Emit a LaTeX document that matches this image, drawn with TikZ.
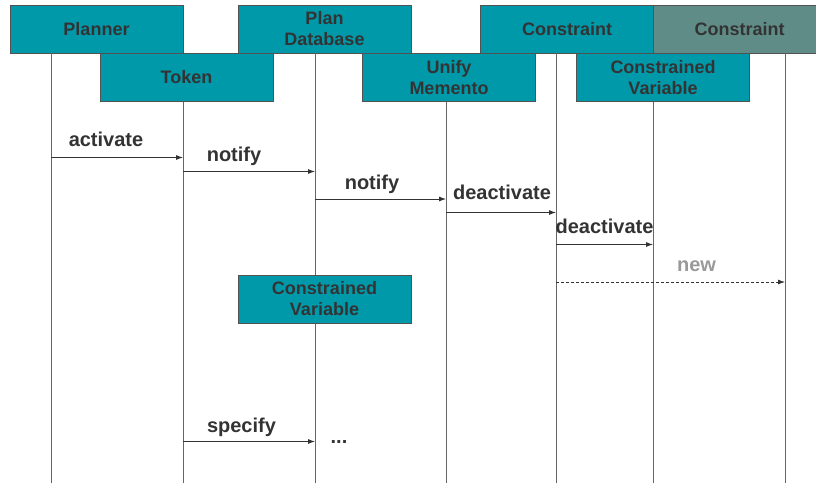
\documentclass[tikz,border=0pt]{standalone}
\usepackage{fontspec}
\setmainfont{Liberation Sans}
\usetikzlibrary{arrows.meta}
\definecolor{boxteal}{RGB}{0,153,170}
\definecolor{boxgrey}{RGB}{96,140,136}
\definecolor{ink}{RGB}{51,51,51}
\begin{document}
\begin{tikzpicture}[x=1pt,y=-1pt]
\tikzstyle{obj}=[draw=ink!85,fill=boxteal,minimum width=173pt,minimum height=48pt,inner sep=0pt,align=center,font=\fontsize{18}{21}\selectfont\bfseries,text=ink]
\tikzstyle{life}=[draw=ink!75,line width=0.9pt]
\tikzstyle{msg}=[draw=ink,line width=0.8pt,-{Latex[length=7pt,width=5pt]}]
\tikzstyle{lbl}=[anchor=base,inner sep=0pt,font=\fontsize{20}{24}\selectfont\bfseries,text=ink]
\useasboundingbox (0,0) rectangle (816,486);
% objects
\draw (96.5,29)  node[obj] (planner) {Planner};
\draw (186.5,77.5) node[obj] (token) {Token};
\draw (324.5,29) node[obj] (pdb) {Plan\\Database};
\draw (449,77.5) node[obj] (unify) {Unify\\Memento};
\draw (567,29) node[obj] (con) {Constraint};
\draw (739.5,29) node[obj,fill=boxgrey] (con2) {Constraint};
\draw (663,77.5) node[obj] (cvar) {Constrained\\Variable};
% lifelines
\coordinate (x1) at (51,483);
\coordinate (x2) at (183,483);
\coordinate (x3) at (315,483);
\coordinate (x4) at (446,483);
\coordinate (x5) at (556,483);
\coordinate (x6) at (653,483);
\coordinate (x7) at (785,483);
\draw[life] (planner.south -| x1) -- (x1);
\draw[life] (token.south -| x2) -- (x2);
\draw[life] (pdb.south -| x3) -- (x3);
\draw[life] (unify.south -| x4) -- (x4);
\draw[life] (con.south -| x5) -- (x5);
\draw[life] (cvar.south -| x6) -- (x6);
\draw[life] (con2.south -| x7) -- (x7);
\draw (324.5,299) node[obj] (cvar2) {Constrained\\Variable};
% messages
\coordinate (y1) at (0,157.5);
\coordinate (y2) at (0,171.5);
\coordinate (y3) at (0,199);
\coordinate (y4) at (0,212.5);
\coordinate (y5) at (0,244.5);
\coordinate (y6) at (0,282);
\coordinate (y7) at (0,441.5);
\draw[msg] (x1 |- y1) -- (x2 |- y1);
\draw[msg] (x2 |- y2) -- (x3 |- y2);
\draw[msg] (x3 |- y3) -- (x4 |- y3);
\draw[msg] (x4 |- y4) -- (x5 |- y4);
\draw[msg] (x5 |- y5) -- (x6 |- y5);
\draw[msg,dash pattern=on 3pt off 2pt] (x5 |- y6) -- (x7 |- y6);
\draw[msg] (x2 |- y7) -- (x3 |- y7);
\node[lbl] (m1) at (106,147) {activate};
\node[lbl] (m2) at (234,162) {notify};
\node[lbl] (m3) at (372,189.5) {notify};
\node[lbl] (m4) at (502,199.5) {deactivate};
\node[lbl] (m5) at (604.5,233.5) {deactivate};
\node[lbl,text=ink!50] (m6) at (696.5,272) {new};
\node[lbl] (m7) at (241.5,432) {specify};
\node[lbl] (m8) at (339,443) {...};
\end{tikzpicture}
\end{document}
